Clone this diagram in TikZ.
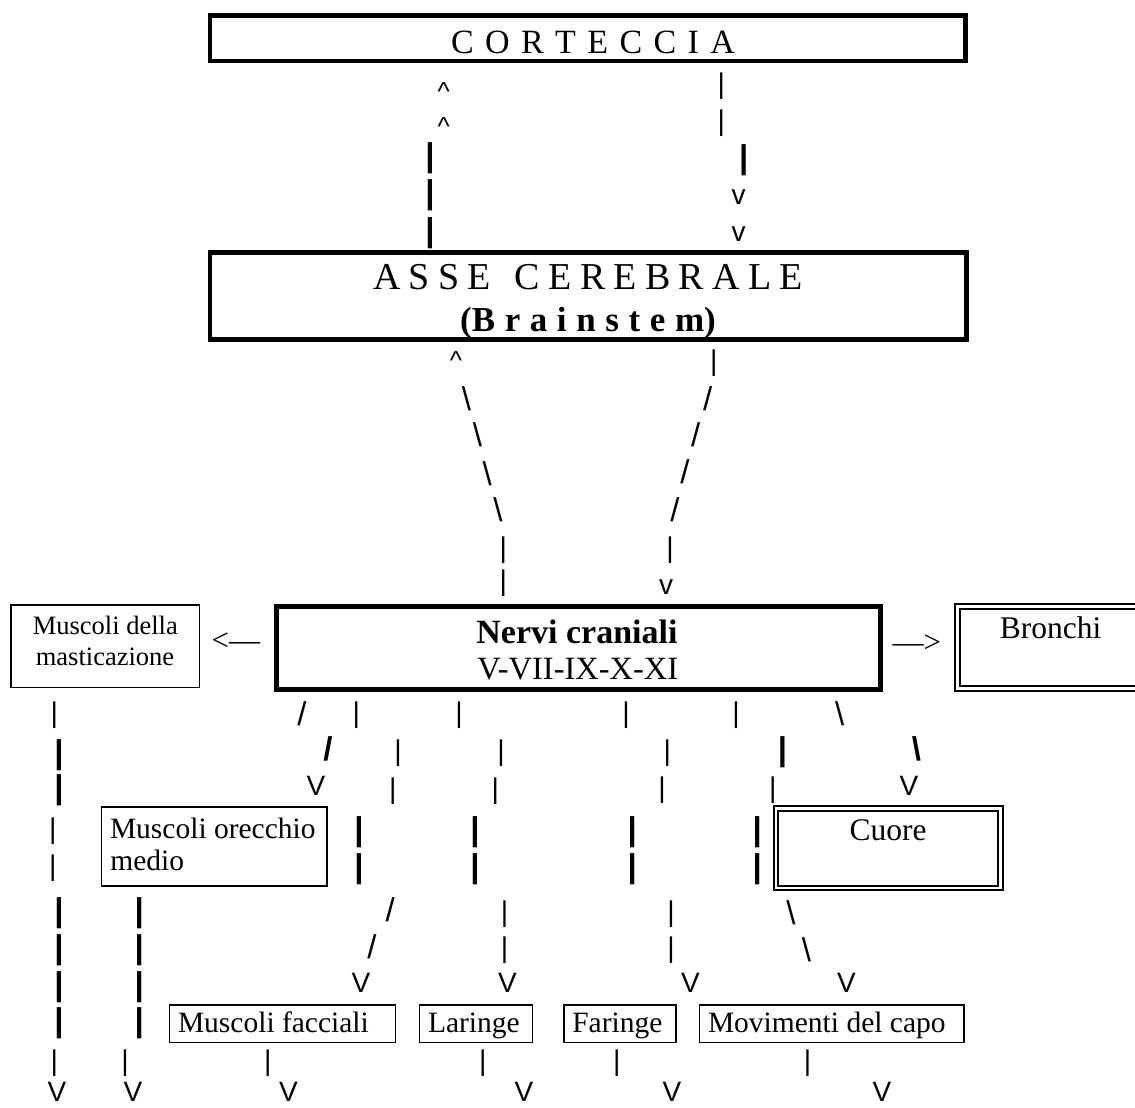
\documentclass[tikz,border=0pt]{standalone}
\usepackage{fontspec}
\setmainfont{Liberation Serif}
\newfontfamily\glyphsans{Liberation Sans}
\tikzset{
  glyph/.style={inner sep=0pt, outer sep=0pt, anchor=north},
  thinbar/.style={glyph, font={\glyphsans\fontsize{28.5}{30}\selectfont}},
  thickbar/.style={glyph, font={\glyphsans\bfseries\fontsize{33}{34}\selectfont}},
  thinsl/.style={glyph, font={\glyphsans\fontsize{33}{34}\selectfont}},
  thicksl/.style={glyph, font={\glyphsans\bfseries\fontsize{33}{34}\selectfont}},
  bigV/.style={glyph, font={\glyphsans\fontsize{28}{30}\selectfont}},
  smallv/.style={glyph, font={\glyphsans\fontsize{28}{30}\selectfont}},
  caret/.style={glyph, font={\glyphsans\fontsize{26}{28}\selectfont}},
  arrowtxt/.style={inner sep=0pt, outer sep=0pt, anchor=base west, font={\fontsize{31}{32}\selectfont}},
  heavybox/.style={draw, line width=4.5pt, inner sep=0pt, outer sep=0pt},
  plainbox/.style={draw, line width=1.5pt, inner sep=0pt, outer sep=0pt},
  dblbox/.style={draw, line width=2pt, double, double distance=2.5pt, inner sep=0pt, outer sep=0pt},
  lbl/.style={inner sep=0pt, outer sep=0pt, font={\fontsize{29.5}{30}\selectfont}},
}
\begin{document}
\begin{tikzpicture}[x=1pt,y=-1pt]
\path[use as bounding box] (0,0) rectangle (1135,1108);
\clip (0,0) rectangle (1135,1108);
% boxes
\node[heavybox, minimum width=755.5pt, minimum height=45.5pt] (cort) at (587.5,38.3) {};
\node[heavybox, minimum width=756.5pt, minimum height=87.2pt] (asse) at (588,295.85) {};
\node[heavybox, line width=5pt, minimum width=603.4pt, minimum height=82.7pt] (nervi) at (578.5,647.85) {};
\node[plainbox, minimum width=188.5pt, minimum height=82.5pt] (mast) at (105,646) {};
\node[plainbox, minimum width=225.6pt, minimum height=79.2pt] (orec) at (214.25,846.35) {};
\node[plainbox, minimum width=226.3pt, minimum height=37.8pt] (facc) at (282.5,1023.65) {};
\node[plainbox, minimum width=113.2pt, minimum height=37.8pt] (lar) at (475.95,1023.65) {};
\node[plainbox, minimum width=112.1pt, minimum height=37.8pt] (far) at (619.8,1023.65) {};
\node[plainbox, minimum width=264.4pt, minimum height=37.8pt] (mov) at (831.55,1023.65) {};
\node[dblbox, minimum width=224.5pt, minimum height=79.5pt] (cuore) at (888.2,848) {};
\node[dblbox, minimum width=185.5pt, minimum height=81.9pt] (bron) at (1050.2,647.5) {};
% texts
\node[inner sep=0pt, anchor=base, font={\fontsize{34}{36}\selectfont}] (cortT) at (593,53.3) {{\spaceskip=11.4pt C O R T E C C I A}};
\node[inner sep=0pt, anchor=base, font={\fontsize{38}{40}\selectfont}] (asseT) at (588,289.3) {{\spaceskip=8.3pt A S S E\hspace{24pt}C E R E B R A L E}};
\node[inner sep=0pt, anchor=base, font={\bfseries\fontsize{35}{37}\selectfont}] (brainT) at (588,331) {{\spaceskip=9.6pt (B r a i n s t e m)}};
\node[inner sep=0pt, anchor=base, font={\bfseries\fontsize{34}{36}\selectfont}] (nerviT) at (577,643.3) {Nervi craniali};
\node[inner sep=0pt, anchor=base, font={\fontsize{32.5}{34}\selectfont}] (nerviN) at (577.8,679.3) {V-VII-IX-X-XI};
\node[inner sep=0pt, anchor=base, font={\fontsize{26.5}{28}\selectfont}] (mastA) at (105.3,634.3) {Muscoli della};
\node[inner sep=0pt, anchor=base, font={\fontsize{26.5}{28}\selectfont}] (mastB) at (105,665) {masticazione};
\node[inner sep=0pt, anchor=base, font={\fontsize{31.5}{33}\selectfont}] (bronT) at (1050.5,638.3) {Bronchi};
\node[inner sep=0pt, anchor=base, font={\fontsize{31.5}{33}\selectfont}] (cuoreT) at (888,840.7) {Cuore};
\node[lbl, anchor=base west] (orecA) at (110,838) {Muscoli orecchio};
\node[lbl, anchor=base west] (orecB) at (110.3,870) {medio};
\node[lbl, anchor=base west] (faccT) at (178,1032.7) {Muscoli facciali};
\node[lbl, anchor=base west] (larT) at (428,1032.7) {Laringe};
\node[lbl, anchor=base west] (farT) at (572.3,1032.7) {Faringe};
\node[lbl, anchor=base west] (movT) at (708,1032.7) {Movimenti del capo};
\node[arrowtxt] (arrL) at (211.7,650) {<—};
\node[arrowtxt] (arrR) at (892.7,652.4) {—>};
% ascii connectors
\foreach \x/\y [count=\i] in {443.7/83, 443.7/118, 456/352}
  \node[caret] (car\i) at (\x,\y) {\textasciicircum};
\foreach \x/\y [count=\i] in {430/143, 430/180, 430/218, 743.7/145, 59/740, 782.6/736.7, 59/775,
  358.9/816.7, 475/816.7, 632.2/816.7, 757.3/816.7, 358.9/853.3, 475/853.3, 632.2/853.3, 757.3/853.3,
  59/898, 139.3/898, 59/935, 139.3/935, 59/972, 139.3/972, 59/1008, 139.3/1008}
  \node[thickbar] (kb\i) at (\x,\y) {|};
\foreach \x/\y [count=\i] in {721.3/73, 721.3/110, 503.4/537, 503.4/570, 713.8/350, 670/537,
  54.3/701.7, 356.3/701.7, 459/701.7, 626/701.7, 736/701.7, 398/740, 501/740, 667.4/740,
  392.9/778, 495.3/778, 662/777, 772.7/777, 52.8/818, 52.8/855, 504.6/900.7, 671.1/900.7,
  504.6/936.7, 671.1/936.7, 54.3/1050, 125/1050, 267.9/1050, 482.8/1050, 616.8/1050, 807.5/1050}
  \node[thinbar] (tb\i) at (\x,\y) {|};
\foreach \x/\y [count=\i] in {466.5/387, 477.5/423, 487.3/462, 498/498, 839.6/701.7, 791/900.7, 806.5/937.3}
  \node[thinsl] (bs\i) at (\x,\y) {\textbackslash};
\foreach \x/\y [count=\i] in {707.8/387, 695.7/423, 685/460, 675/498, 302/701.7, 390.2/898, 372/935}
  \node[thinsl] (sl\i) at (\x,\y) {/};
\node[thicksl] (ksl1) at (327.9,736.7) {/};
\node[thicksl] (kbs1) at (916.4,736.7) {\textbackslash};
\foreach \x/\y [count=\i] in {738.7/190, 738.7/227, 666/580}
  \node[smallv] (sv\i) at (\x,\y) {v};
\foreach \x/\y [count=\i] in {316/776.7, 909/776.7, 361/973, 507.5/973, 690.5/973, 846.5/973,
  57/1082, 133/1082, 288.5/1082, 524/1082, 672/1082, 882/1082}
  \node[bigV] (bv\i) at (\x,\y) {V};
\end{tikzpicture}
\end{document}
